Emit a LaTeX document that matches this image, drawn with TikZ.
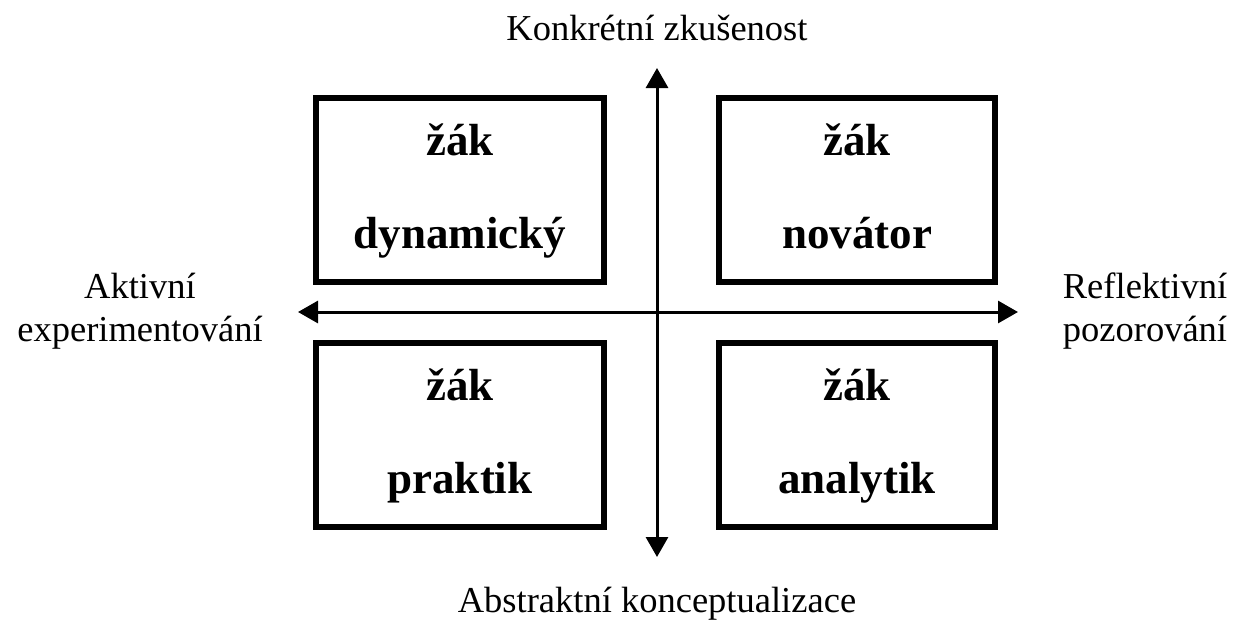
\documentclass[tikz,border=0pt]{standalone}
\usepackage{fontspec}
\setmainfont{Liberation Serif}
\usetikzlibrary{arrows.meta}

\tikzset{
  quadrant/.style={draw,line width=6pt,minimum width=288pt,minimum height=184pt,
    align=center,text height=126pt,text depth=10pt,
    font=\fontsize{45}{93}\selectfont\bfseries},
  axis/.style={line width=3pt,{Triangle[length=20pt,width=22pt]}-{Triangle[length=20pt,width=22pt]}},
  axislabel/.style={align=center,font=\fontsize{36.5}{43}\selectfont}
}

\begin{document}
\begin{tikzpicture}[x=1pt,y=-1pt]
    \useasboundingbox (0,0) rectangle (1235,630);

    \node (dyn) at (460,190) [quadrant] {žák\\dynamický};
    \node (nov) at (857,190) [quadrant,minimum width=276pt] {žák\\novátor};
    \node (pra) at (460,435) [quadrant] {žák\\praktik};
    \node (ana) at (857,435) [quadrant,minimum width=276pt] {žák\\analytik};

    \coordinate (top) at (657,68);
    \coordinate (bottom) at (657,557);
    \coordinate (left) at (298,312);
    \coordinate (right) at (1018,312);
    \draw[axis] (bottom) -- (top);
    \draw[axis] (left) -- (right);

    \node (konk) at (657,28) [axislabel] {Konkrétní zkušenost};
    \node (abst) at (657,604) [axislabel] {Abstraktní konceptualizace};
    \node (akt) at (140,311) [axislabel] {Aktivní\\experimentování};
    \node (refl) at (1145,311) [axislabel] {Reflektivní\\pozorování};
\end{tikzpicture}
\end{document}
